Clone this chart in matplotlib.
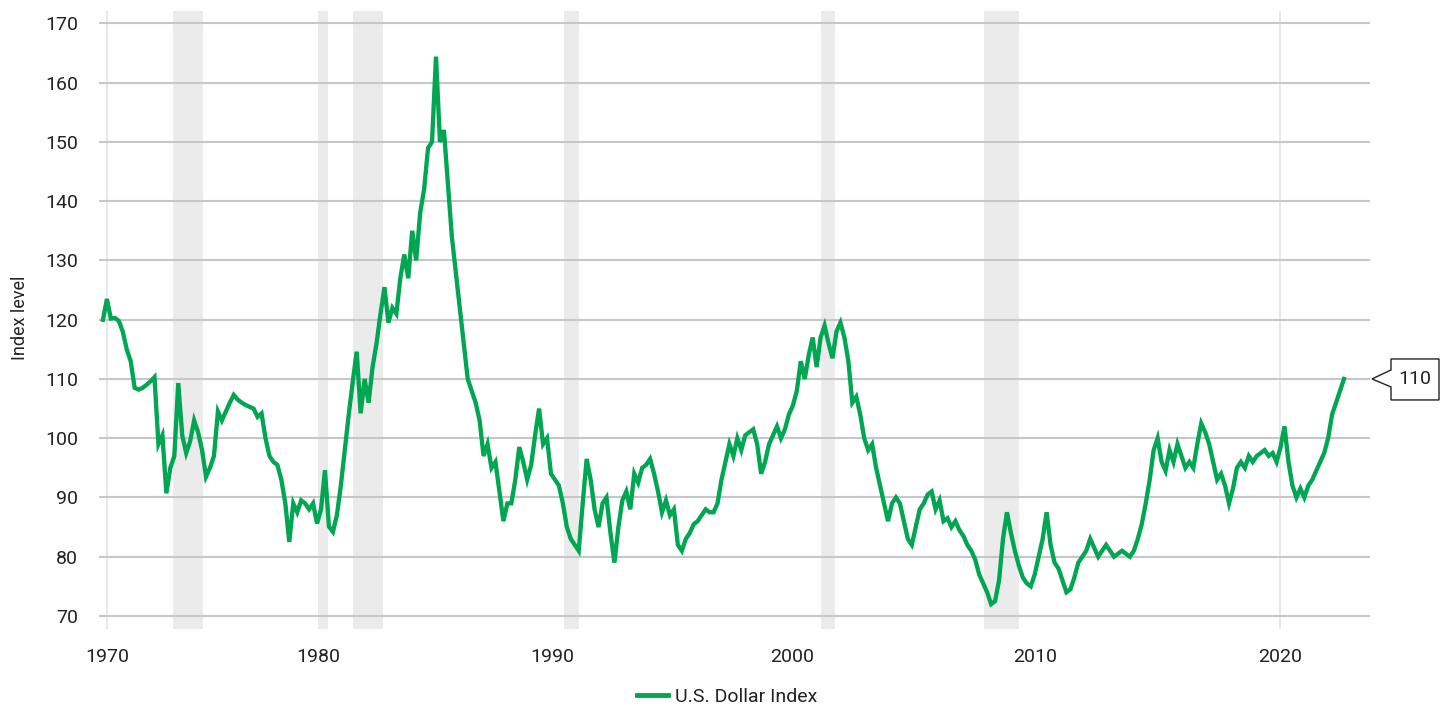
import numpy as np
import matplotlib
matplotlib.use("Agg")
import matplotlib.pyplot as plt
from matplotlib.patches import Polygon

plt.rcParams['font.family'] = ['Roboto', 'DejaVu Sans']

# ---------------- data ----------------
start_year = 1970.88          # first observation (bimonthly sampling)
step_years = 1 / 6
dxy_values = [
    120, 123.5, 120.2, 120.3, 119.8, 118, 115, 113, 108.5, 108.2,
    108.5, 109, 109.6, 110.3, 99, 100.5, 90.7, 95, 97, 109.3,
    100.5, 97.5, 99.5, 103, 101, 98, 93.5, 95, 97, 104.5,
    103, 104.5, 106, 107.3, 106.5, 106, 105.6, 105.3, 105, 103.6,
    104.2, 100, 97, 96, 95.5, 93, 89, 82.5, 89, 87.5,
    89.5, 89, 88, 89, 85.6, 88, 94.6, 85.1, 84.2, 87,
    92, 98, 104, 109.5, 114.6, 104.2, 110, 106, 112, 116,
    121, 125.5, 119.5, 122, 121, 127, 131, 127, 135, 130,
    138, 142, 149, 150, 164.4, 150, 152, 143, 134, 128,
    122, 116, 110, 108, 106, 103, 97, 99, 95, 96,
    91, 86, 89, 89, 93, 98.5, 96, 93, 95.5, 100.5,
    105, 99, 100, 94, 93, 92, 89, 85, 83, 82,
    81, 89, 96.5, 93, 88, 85, 89, 90, 84, 79,
    85, 89.5, 91, 88, 94, 92.5, 95, 95.5, 96.5, 94,
    91, 87.5, 89.5, 87, 88, 82, 81, 83, 84, 85.5,
    86, 87, 88, 87.5, 87.5, 89, 93, 96, 99, 97,
    100, 98, 100.5, 101, 101.5, 99, 94, 96, 99, 100.5,
    102, 100, 101.5, 104, 105.5, 108, 113, 110, 114, 117,
    112, 117, 119, 116, 113.5, 118, 119.5, 117, 113, 106,
    107, 104, 100, 98, 99, 95, 92, 89, 86, 89,
    90, 89, 86, 83, 82, 85, 88, 89, 90.5, 91,
    88, 89.5, 86, 86.5, 85, 86, 84.5, 83.5, 82, 81,
    79.5, 77, 75.5, 74, 72, 72.5, 76, 83, 87.5, 84,
    81, 78.5, 76.5, 75.5, 75, 77, 80, 83, 87.5, 82,
    79, 78, 76, 74, 74.5, 76.5, 79, 80, 81, 83,
    81.5, 80, 81, 82, 81, 80, 80.5, 81, 80.5, 80,
    81, 83, 85.5, 89, 93, 98, 100, 96, 94.5, 98,
    96, 99, 97, 95, 96, 95, 99, 102.5, 101, 99,
    96, 93, 94, 92, 89, 91.5, 95, 96, 95, 97,
    96, 97, 97.5, 98, 97, 97.5, 96, 98.5, 102, 96,
    92, 90, 91.5, 90, 92, 93, 94.5, 96, 97.5, 100,
    104, 106, 108, 110,
]
recession_starts = [1973.83, 1979.92, 1981.39, 1990.26, 2001.06, 2007.92]
recession_ends = [1975.09, 1980.34, 1982.65, 1990.89, 2001.65, 2009.39]
tick_labels = ['1970', '1980', '1990', '2000', '2010', '2020']
y_ticks = [70, 80, 90, 100, 110, 120, 130, 140, 150, 160, 170]
latest_value = 110
series_name = 'U.S. Dollar Index'
y_title = 'Index level'

# ---------------- figure ----------------
W, H = 1447, 707
fig = plt.figure(figsize=(W / 100, H / 100), dpi=100)
ax = fig.add_axes([99 / W, (H - 629) / H, (1370 - 99) / W, (629 - 11) / H])

dates = start_year + np.arange(len(dxy_values)) * step_years

green = '#00a651'
text_col = '#222222'

for s, e in zip(recession_starts, recession_ends):
    ax.axvspan(s, e, color='#ebebeb', lw=0, zorder=0)

ax.set_xlim(1970.715, 2024.14)
ax.set_ylim(67.8, 172.1)

for y in y_ticks:
    ax.axhline(y, color='#c6c6cb', lw=1.5, zorder=1)

tick_pos = [1971.05, 1979.92, 1989.76, 1999.84, 2010.06, 2020.36]
for xv in (tick_pos[0], tick_pos[-1]):
    ax.axvline(xv, color='#e6e6e6', lw=1.3, zorder=0.5)

line, = ax.plot(dates, dxy_values, color=green, lw=3.1, zorder=3,
                solid_joinstyle='miter', label=series_name)

ax.set_xticks(tick_pos)
ax.set_xticklabels(tick_labels)
ax.set_yticks(y_ticks)
ax.tick_params(axis='both', length=0, labelsize=14, colors=text_col)
ax.tick_params(axis='y', pad=15)
ax.tick_params(axis='x', pad=14)
for sp in ax.spines.values():
    sp.set_visible(False)

fig.text(20 / W, 1 - 318 / H, y_title, rotation=90, ha='center', va='center',
         fontsize=13, color=text_col)

leg = fig.legend(handles=[line], loc='center', bbox_to_anchor=(727 / W, 1 - 697 / H),
                 frameon=False, fontsize=14, handlelength=1.6, handletextpad=0.35,
                 borderpad=0, labelcolor=text_col)
for h in leg.legend_handles:
    h.set_linewidth(3.5)

# callout for latest value
ytr = ax.get_yaxis_transform()
axw = 1370 - 99
ppu = (629 - 11) / (172.1 - 67.8)
def ax_x(px):
    return 1 + px / axw
verts = [
    (ax_x(2), latest_value),
    (ax_x(21), latest_value + 9 / ppu),
    (ax_x(21), latest_value + 20 / ppu),
    (ax_x(69), latest_value + 20 / ppu),
    (ax_x(69), latest_value - 21 / ppu),
    (ax_x(21), latest_value - 21 / ppu),
    (ax_x(21), latest_value - 8 / ppu),
]
poly = Polygon(verts, closed=True, transform=ytr, facecolor='white',
               edgecolor='#222222', lw=1.0, clip_on=False, zorder=5)
ax.add_patch(poly)
ax.text(ax_x(45), latest_value, f'{latest_value}', transform=ytr, ha='center',
        va='center', fontsize=14, color=text_col, zorder=6)

fig.savefig('out.png', dpi=100, facecolor='white')
